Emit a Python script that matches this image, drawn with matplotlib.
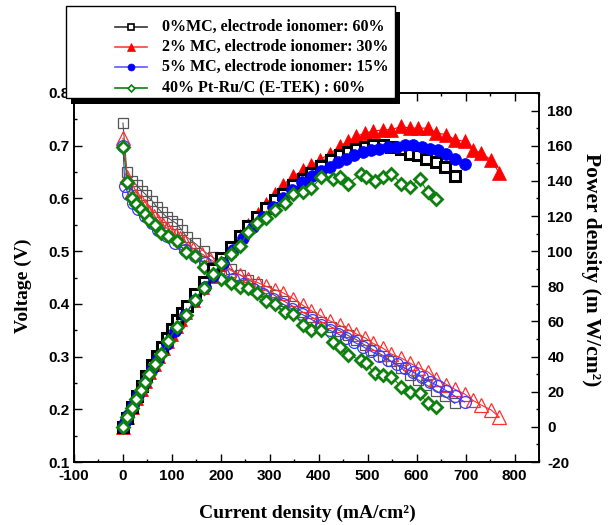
import matplotlib
matplotlib.use("Agg")
import matplotlib.pyplot as plt
from matplotlib.ticker import MultipleLocator, FormatStrFormatter
from matplotlib.lines import Line2D
from matplotlib.patches import Rectangle

plt.rcParams["axes.unicode_minus"] = False

# ---------------- data ----------------
labels = ["0%MC, electrode ionomer: 60%",
          "2% MC, electrode ionomer: 30%",
          "5% MC, electrode ionomer: 15%",
          "40% Pt-Ru/C (E-TEK) : 60%"]

cur_0mc = [0, 8, 18, 28, 38, 48, 59, 69, 79, 89, 100, 110, 120, 130, 147, 165, 184, 201, 220, 239,
           256, 273, 293, 310, 327, 348, 368, 385, 405, 426, 443, 460, 477, 494, 511, 531, 548, 569, 586, 603,
           620, 640, 657, 678]
volt_0mc = [0.743, 0.650, 0.634, 0.625, 0.615, 0.606, 0.596, 0.584, 0.574, 0.565, 0.558, 0.552, 0.540, 0.527,
            0.515, 0.500, 0.488, 0.477, 0.466, 0.455, 0.446, 0.437, 0.425, 0.416, 0.406, 0.395, 0.384, 0.375,
            0.366, 0.356, 0.349, 0.340, 0.332, 0.322, 0.313, 0.302, 0.291, 0.278, 0.265, 0.256, 0.246, 0.235,
            0.225, 0.211]
pow_0mc = [0, 5.2, 11.4, 17.5, 23.4, 29.1, 35.2, 40.3, 45.3, 50.3, 55.8, 60.7, 64.8, 68.5, 75.7, 82.5, 89.8,
           95.9, 102.5, 108.7, 114.2, 119.3, 124.5, 129.0, 132.8, 137.5, 141.3, 144.4, 148.2, 151.6, 154.5,
           156.4, 158.3, 159.2, 160.2, 160.2, 159.5, 158.0, 155.4, 154.5, 152.6, 150.7, 147.8, 143.0]

cur_2mc = [0, 9, 18, 27, 36, 45, 54, 63, 72, 81, 90, 99, 108, 117, 126, 143, 161, 177, 195, 217,
           239, 256, 276, 293, 310, 327, 348, 368, 385, 402, 422, 443, 460, 477, 494, 511, 531, 548, 569, 586,
           603, 623, 640, 661, 678, 698, 715, 732, 752, 769]
volt_2mc = [0.714, 0.640, 0.615, 0.605, 0.595, 0.585, 0.575, 0.566, 0.558, 0.550, 0.543, 0.536, 0.530, 0.524,
            0.518, 0.505, 0.495, 0.485, 0.475, 0.465, 0.455, 0.448, 0.440, 0.433, 0.427, 0.421, 0.410, 0.397,
            0.387, 0.378, 0.368, 0.359, 0.351, 0.343, 0.336, 0.325, 0.316, 0.305, 0.297, 0.288, 0.279, 0.271,
            0.258, 0.247, 0.238, 0.229, 0.217, 0.208, 0.199, 0.185]
pow_2mc = [0, 5.8, 11.1, 16.3, 21.4, 26.3, 31.1, 35.7, 40.2, 44.6, 48.9, 53.1, 57.2, 61.3, 65.3, 72.2, 79.7,
           85.8, 92.6, 100.9, 108.7, 114.7, 121.4, 126.9, 132.4, 137.7, 142.7, 146.0, 149.0, 152.0, 155.3,
           159.6, 162.5, 165.3, 167.2, 168.2, 169.1, 169.1, 171.0, 170.0, 170.0, 170.0, 167.2, 166.3, 163.4,
           162.5, 157.7, 155.8, 152.0, 144.4]

cur_5mc = [0, 4, 11, 21, 31, 45, 59, 72, 89, 106, 127, 147, 167, 184, 205, 225, 246, 266, 286, 306,
           326, 346, 366, 386, 405, 422, 439, 456, 473, 490, 507, 524, 541, 559, 576, 592, 610, 627, 643, 661,
           678, 698]
volt_5mc = [0.700, 0.623, 0.608, 0.592, 0.579, 0.566, 0.554, 0.541, 0.529, 0.516, 0.503, 0.491, 0.478, 0.466,
            0.456, 0.447, 0.437, 0.428, 0.418, 0.409, 0.400, 0.390, 0.380, 0.370, 0.360, 0.350, 0.343, 0.335,
            0.327, 0.319, 0.310, 0.302, 0.294, 0.285, 0.278, 0.271, 0.261, 0.252, 0.245, 0.235, 0.225, 0.214]
pow_5mc = [0, 2.5, 6.7, 12.4, 17.9, 25.5, 32.7, 39.0, 47.1, 54.7, 63.9, 72.2, 79.8, 85.7, 93.5, 100.6, 107.5,
           113.8, 119.5, 125.2, 130.4, 134.9, 139.1, 142.8, 145.8, 147.7, 150.7, 152.6, 154.5, 156.4, 157.3,
           158.3, 159.2, 159.2, 160.2, 160.2, 159.2, 158.3, 157.3, 155.4, 152.6, 149.7]

cur_ptru = [0, 9, 18, 27, 36, 45, 54, 65, 78, 92, 110, 128, 147, 165, 184, 201, 220, 239, 256, 273,
            293, 310, 331, 348, 368, 385, 405, 429, 443, 460, 487, 497, 514, 531, 548, 569, 586, 606, 623, 640]
volt_ptru = [0.698, 0.631, 0.600, 0.590, 0.580, 0.570, 0.560, 0.549, 0.534, 0.528, 0.519, 0.498, 0.490, 0.470,
             0.454, 0.448, 0.440, 0.432, 0.430, 0.420, 0.405, 0.399, 0.385, 0.381, 0.360, 0.350, 0.350, 0.328,
             0.318, 0.303, 0.293, 0.287, 0.268, 0.265, 0.262, 0.243, 0.233, 0.230, 0.211, 0.205]
pow_ptru = [0, 5.7, 10.8, 15.9, 20.9, 25.6, 30.2, 35.7, 41.7, 48.6, 57.1, 63.7, 72.0, 79.3, 86.9, 93.5, 98.3,
            103.0, 111.0, 116.0, 118.7, 123.6, 127.4, 132.6, 133.5, 135.8, 142.0, 141.0, 142.0, 138.3, 144.0,
            142.0, 140.2, 142.0, 144.0, 138.3, 136.4, 141.0, 133.5, 129.7]

x_ticks = [-100, 0, 100, 200, 300, 400, 500, 600, 700, 800]

# ---------------- figure ----------------
W, H = 608, 525
fig = plt.figure(figsize=(W / 100, H / 100), dpi=100)
L, R, T, B = 74, 539, 93, 462
ax = fig.add_axes([L / W, 1 - B / H, (R - L) / W, (B - T) / H])
ax2 = ax.twinx()

SANS = "Liberation Sans"
SERIF = "Liberation Serif"

GREEN = "#0d800d"

# voltage curves (open markers)
ax.plot(cur_0mc, volt_0mc, color="#555555", lw=0.8, marker="s", ms=7.5, mfc="none", mec="#555555", mew=0.9)
ax.plot(cur_2mc, volt_2mc, color="#ff3030", lw=0.8, marker="^", ms=9.5, mfc="none", mec="#ff3030", mew=0.9)
ax.plot(cur_5mc, volt_5mc, color="#3a3aff", lw=0.8, marker="o", ms=8.5, mfc="none", mec="#3a3aff", mew=0.9)
ax.plot(cur_ptru, volt_ptru, color=GREEN, lw=0.8, marker="D", ms=6.2, mfc="white", mec=GREEN, mew=2.0)

# power curves
ax2.plot(cur_2mc, pow_2mc, color="red", lw=0.8, marker="^", ms=9.5, mfc="red", mec="red", mew=0.5)
ax2.plot(cur_0mc, pow_0mc, color="black", lw=0.8, marker="s", ms=6.5, mfc="white", mec="black", mew=2.2)
ax2.plot(cur_5mc, pow_5mc, color="blue", lw=0.8, marker="o", ms=8.5, mfc="blue", mec="blue", mew=0.5)
ax2.plot(cur_ptru, pow_ptru, color=GREEN, lw=0.8, marker="D", ms=6.2, mfc="white", mec=GREEN, mew=2.0)

ax.set_xlim(-100, 850)
ax.set_ylim(0.1, 0.8)
ax2.set_ylim(-20, 190)

ax.set_xticks(x_ticks)
ax.xaxis.set_minor_locator(MultipleLocator(50))
ax.yaxis.set_major_locator(MultipleLocator(0.1))
ax.yaxis.set_minor_locator(MultipleLocator(0.05))
ax.yaxis.set_major_formatter(FormatStrFormatter("%.1f"))
ax2.yaxis.set_major_locator(MultipleLocator(20))
ax2.yaxis.set_minor_locator(MultipleLocator(10))

ax.tick_params(which="both", direction="in", top=True, right=False, labeltop=False, width=1.0)
ax.tick_params(which="major", length=5.5)
ax.tick_params(which="minor", length=2.5)
ax.tick_params(axis="x", pad=5)
ax.tick_params(axis="y", pad=3.5)
ax2.tick_params(which="both", direction="in", right=True, left=False, width=1.0)
ax2.tick_params(which="major", length=5.5, pad=6)
ax2.tick_params(which="minor", length=2.5)

for a in (ax, ax2):
    for s in a.spines.values():
        s.set_linewidth(1.2)
    for lab in a.get_xticklabels() + a.get_yticklabels():
        lab.set_fontfamily(SANS)
        lab.set_fontweight("bold")
        lab.set_fontsize(11)

# axis labels
fig.text(23 / W, 1 - 286 / H, "Voltage (V)", rotation=90, ha="center", va="center",
         family=SERIF, weight="bold", fontsize=14)
fig.text(307 / W, 1 - 513 / H, "Current density (mA/cm²)", ha="center", va="center",
         family=SERIF, weight="bold", fontsize=14)
fig.text(591 / W, 1 - 270 / H, "Power density (m W/cm²)", rotation=270, ha="center", va="center",
         family=SERIF, weight="bold", fontsize=15.5)

# legend (box with black drop shadow)
def fx(px):
    return px / W

def fy(py):
    return 1 - py / H

fig.add_artist(Rectangle((fx(71), fy(104)), (400 - 71) / W, (104 - 12) / H, transform=fig.transFigure,
                         facecolor="black", edgecolor="black", lw=0, zorder=8))
fig.add_artist(Rectangle((fx(66), fy(98)), (395 - 66) / W, (98 - 6) / H, transform=fig.transFigure,
                         facecolor="white", edgecolor="black", lw=1.0, zorder=9))

leg_styles = [
    dict(color="#333333", marker="s", ms=4.5, mfc="white", mec="black", mew=1.2),
    dict(color="#ff4040", marker="^", ms=5.5, mfc="red", mec="red", mew=0.5),
    dict(color="#5a5aff", marker="o", ms=5, mfc="blue", mec="blue", mew=0.5),
    dict(color=GREEN, marker="D", ms=3.5, mfc="white", mec=GREEN, mew=1.2),
]
row_y = [27, 47, 67, 88]
for lab, st, yy in zip(labels, leg_styles, row_y):
    ln = Line2D([fx(115), fx(131), fx(147)], [fy(yy)] * 3, transform=fig.transFigure, lw=1.2,
                markevery=[1], zorder=10, **st)
    fig.add_artist(ln)
    fig.text(fx(162), fy(yy), lab, ha="left", va="center", family=SERIF, weight="bold",
             fontsize=11.5, zorder=11)

fig.savefig("out.png", dpi=100)
